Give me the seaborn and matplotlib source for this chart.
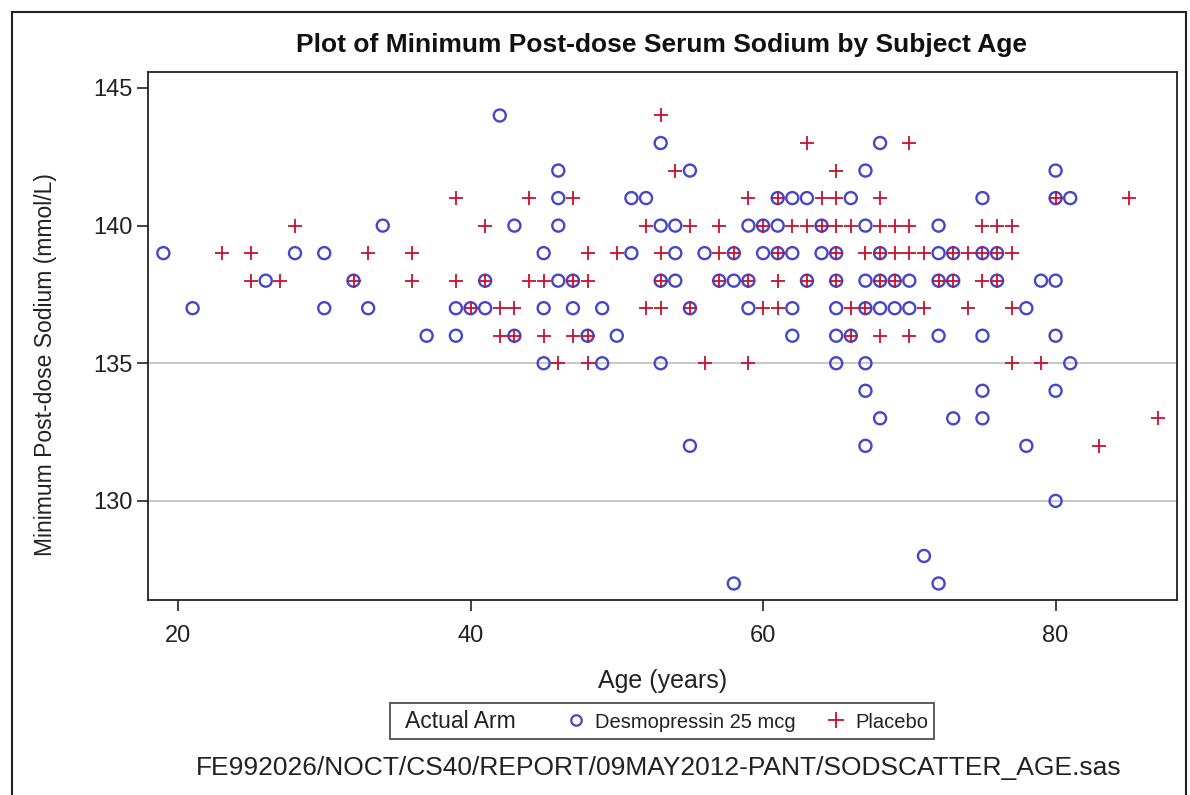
import matplotlib
matplotlib.use("Agg")
import matplotlib.pyplot as plt
from matplotlib.lines import Line2D
from matplotlib.patches import Rectangle
import seaborn as sns
import pandas as pd

# ---- data ----
desmo_age = [42,
             53, 68,
             46, 55, 67, 80,
             46, 51, 52, 61, 62, 63, 66, 75, 80, 81,
             34, 43, 46, 53, 54, 59, 60, 61, 64, 67, 72,
             19, 28, 30, 45, 51, 54, 56, 58, 60, 61, 62, 64, 65, 68, 72, 73, 75, 76,
             26, 32, 41, 46, 47, 53, 54, 57, 58, 59, 63, 65, 67, 68, 69, 70, 72, 73, 76, 79, 80,
             21, 30, 33, 39, 40, 41, 45, 47, 49, 55, 59, 62, 65, 67, 68, 69, 70, 78,
             37, 39, 43, 48, 50, 62, 65, 66, 72, 75, 80,
             45, 49, 53, 65, 67, 81,
             67, 75, 80,
             68, 73, 75,
             55, 67, 78,
             80,
             71,
             58, 72]
desmo_na = ([144] * 1 + [143] * 2 + [142] * 4 + [141] * 10 + [140] * 11 + [139] * 18 +
            [138] * 21 + [137] * 18 + [136] * 11 + [135] * 6 + [134] * 3 + [133] * 3 +
            [132] * 3 + [130] * 1 + [128] * 1 + [127] * 2)

placebo_age = [53,
               63, 70,
               54, 65,
               39, 44, 47, 59, 61, 64, 65, 68, 80, 85,
               28, 41, 52, 55, 57, 60, 62, 63, 64, 65, 66, 68, 69, 70, 75, 76, 77,
               23, 25, 33, 36, 48, 50, 53, 57, 58, 61, 65, 67, 68, 69, 70, 71, 73, 74, 75, 76, 77,
               25, 27, 32, 36, 39, 41, 44, 45, 47, 48, 53, 57, 59, 61, 63, 65, 68, 69, 72, 73, 75, 76,
               40, 42, 43, 52, 53, 55, 60, 61, 66, 67, 71, 74, 77,
               42, 43, 45, 47, 48, 66, 68, 70,
               46, 48, 56, 59, 77, 79,
               87,
               83]
placebo_na = ([144] * 1 + [143] * 2 + [142] * 2 + [141] * 10 + [140] * 17 + [139] * 21 +
              [138] * 22 + [137] * 13 + [136] * 8 + [135] * 6 + [133] * 1 + [132] * 1)

arm_labels = ["Desmopressin 25 mcg", "Placebo"]
x_ticks = [20, 40, 60, 80]
y_ticks = [130, 135, 140, 145]
ref_lines = [130, 135]

desmo = pd.DataFrame({"age": desmo_age, "na": desmo_na})
placebo = pd.DataFrame({"age": placebo_age, "na": placebo_na})

BLUE = "#4646c8"
RED = "#c8102e"
INK = "#222222"

sns.set_style("white")
plt.rcParams["font.family"] = ["Liberation Sans", "DejaVu Sans"]

fig = plt.figure(figsize=(11.9, 7.95), dpi=100)
ax = fig.add_axes([148 / 1190, 1 - 600 / 795, (1177 - 148) / 1190, (600 - 72) / 795])

for r in ref_lines:
    ax.axhline(r, color="#c8c8c8", lw=1.4, zorder=0)

sns.scatterplot(data=desmo, x="age", y="na", ax=ax, marker="o", s=75,
                color=BLUE, facecolor="none", edgecolor=BLUE, linewidth=1.7,
                legend=False, zorder=2)
sns.scatterplot(data=placebo, x="age", y="na", ax=ax, marker="+", s=115,
                color=RED, linewidth=1.3, legend=False, zorder=3)

ax.set_xlim(17.95, 88.3)
ax.set_ylim(126.4, 145.58)
ax.set_xticks(x_ticks)
ax.set_yticks(y_ticks)
ax.tick_params(axis="both", direction="out", length=8, width=1.2, color=INK,
               labelsize=17, labelcolor=INK, bottom=True, left=True)
ax.tick_params(axis="x", pad=10)
ax.tick_params(axis="y", pad=3)
for sp in ax.spines.values():
    sp.set_color(INK)
    sp.set_linewidth(1.3)

ax.set_xlabel("Age (years)", fontsize=18, color=INK)
ax.xaxis.set_label_coords(0.5, -0.13)
ax.set_ylabel("Minimum Post-dose Sodium (mmol/L)", fontsize=16.5, color=INK)
ax.yaxis.set_label_coords(-0.088, 0.445)

fig.text(662 / 1190, 1 - 45 / 795, "Plot of Minimum Post-dose Serum Sodium by Subject Age",
         ha="center", va="center", fontsize=19, fontweight="bold", color="#111111")

handles = [Line2D([], [], linestyle="none", marker=None),
           Line2D([], [], linestyle="none", marker="o", markerfacecolor="none",
                  markeredgecolor=BLUE, markeredgewidth=1.6, markersize=7.5),
           Line2D([], [], linestyle="none", marker="+", color=RED,
                  markeredgewidth=1.3, markersize=11)]
labels = ["Actual Arm"] + arm_labels
leg = fig.legend(handles, labels, loc="center", bbox_to_anchor=(662 / 1190, 1 - 721 / 795),
                 ncol=3, frameon=True, fancybox=False, edgecolor=INK,
                 fontsize=14.5, handlelength=1.0, handletextpad=0.45, columnspacing=1.5,
                 borderpad=0.3, labelcolor=INK)
leg.get_frame().set_linewidth(1.3)
leg.get_texts()[0].set_fontsize(16.5)
leg.get_texts()[0].set_x(-20)

fig.text(659 / 1190, 1 - 768 / 795,
         "FE992026/NOCT/CS40/REPORT/09MAY2012-PANT/SODSCATTER_AGE.sas",
         ha="center", va="center", fontsize=19, color=INK)

fig.patches.append(Rectangle((12 / 1190, -0.05), (1186 - 12) / 1190, 1.05 - 12 / 795,
                             transform=fig.transFigure, fill=False,
                             edgecolor=INK, linewidth=1.5))

fig.savefig("out.png", dpi=100)
